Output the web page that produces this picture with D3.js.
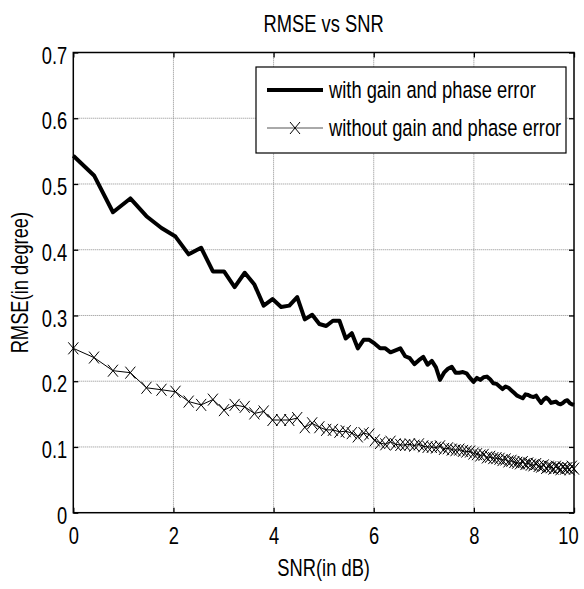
<!DOCTYPE html>
<html>
<head>
<meta charset="utf-8">
<script src="https://cdn.jsdelivr.net/npm/d3@7"></script>
<style>
  html, body { margin: 0; padding: 0; background: #fff; }
  svg { display: block; }
  text { font-family: "Liberation Sans", Arial, sans-serif; fill: #000; }
</style>
</head>
<body>
<svg id="chart"></svg>
<script>
//--------------------------------------------
// DATA
//--------------------------------------------
// SNR in dB at each simulated point
const snrDb = [
  0, 0.414, 0.792, 1.139, 1.461, 1.761, 2.041, 2.304, 2.553, 2.788,
  3.010, 3.222, 3.424, 3.617, 3.802, 3.979, 4.150, 4.314, 4.472, 4.624,
  4.771, 4.914, 5.051, 5.185, 5.315, 5.441, 5.563, 5.682, 5.798, 5.911,
  6.021, 6.128, 6.232, 6.335, 6.435, 6.532, 6.628, 6.721, 6.812, 6.902,
  6.990, 7.076, 7.160, 7.243, 7.324, 7.404, 7.482, 7.559, 7.634, 7.709,
  7.782, 7.853, 7.924, 7.993, 8.062, 8.129, 8.195, 8.261, 8.325, 8.388,
  8.451, 8.513, 8.573, 8.633, 8.692, 8.751, 8.808, 8.865, 8.921, 8.976,
  9.031, 9.085, 9.138, 9.191, 9.243, 9.294, 9.345, 9.395, 9.445, 9.494,
  9.542, 9.590, 9.638, 9.685, 9.731, 9.777, 9.823, 9.868, 9.912, 9.956,
  10
];

// RMSE (degree), with gain and phase error
const rmseWithError = [
  0.543, 0.513, 0.457, 0.478, 0.451, 0.433, 0.420, 0.393, 0.403, 0.367,
  0.367, 0.343, 0.365, 0.347, 0.315, 0.325, 0.313, 0.315, 0.328, 0.294,
  0.301, 0.287, 0.284, 0.292, 0.292, 0.265, 0.273, 0.250, 0.263, 0.263,
  0.257, 0.250, 0.250, 0.244, 0.247, 0.250, 0.238, 0.235, 0.226, 0.232,
  0.237, 0.225, 0.231, 0.221, 0.202, 0.213, 0.219, 0.222, 0.213, 0.213,
  0.214, 0.212, 0.205, 0.199, 0.205, 0.202, 0.206, 0.207, 0.203, 0.197,
  0.196, 0.192, 0.188, 0.192, 0.190, 0.186, 0.182, 0.178, 0.176, 0.174,
  0.180, 0.179, 0.177, 0.176, 0.178, 0.172, 0.167, 0.172, 0.175, 0.172,
  0.167, 0.168, 0.169, 0.166, 0.165, 0.167, 0.170, 0.171, 0.167, 0.165,
  0.164
];

// RMSE (degree), without gain and phase error
const rmseWithoutError = [
  0.250, 0.236, 0.216, 0.213, 0.190, 0.187, 0.184, 0.169, 0.164, 0.172,
  0.156, 0.164, 0.161, 0.151, 0.154, 0.141, 0.141, 0.141, 0.144, 0.130,
  0.136, 0.130, 0.126, 0.126, 0.123, 0.124, 0.121, 0.116, 0.121, 0.119,
  0.110, 0.106, 0.104, 0.108, 0.104, 0.103, 0.103, 0.104, 0.102, 0.104,
  0.101, 0.100, 0.100, 0.099, 0.101, 0.097, 0.098, 0.096, 0.095, 0.096,
  0.094, 0.093, 0.093, 0.090, 0.089, 0.087, 0.088, 0.084, 0.085, 0.083,
  0.083, 0.082, 0.080, 0.081, 0.078, 0.079, 0.077, 0.076, 0.075, 0.077,
  0.074, 0.075, 0.073, 0.072, 0.074, 0.071, 0.070, 0.072, 0.068, 0.070,
  0.069, 0.067, 0.070, 0.068, 0.066, 0.069, 0.067, 0.068, 0.066, 0.070,
  0.067
];

const xTicks = [0, 2, 4, 6, 8, 10];
const yTicks = [0, 0.1, 0.2, 0.3, 0.4, 0.5, 0.6, 0.7];
const seriesNames = ["with gain and phase error", "without gain and phase error"];

//--------------------------------------------
// CONFIG
//--------------------------------------------
const width = 584, height = 589;
const margin = {top: 52.5, right: 10, bottom: 76.3, left: 73.3};
const fontSize = 23.5;
const squeeze = 0.78; // matlab's narrow helvetica look

const svg = d3.select("#chart")
  .attr("width", width)
  .attr("height", height);

const x = d3.scaleLinear([0, 10], [margin.left, width - margin.right]);
const y = d3.scaleLinear([0, 0.7], [height - margin.bottom, margin.top]);

// squeeze text horizontally (no narrow font installed): move x/y into a
// transform and scale around the anchor point
function narrow(sel) {
  sel.each(function() {
    const t = d3.select(this);
    const tx = +t.attr("x") || 0, ty = +t.attr("y") || 0;
    const prev = t.attr("transform") || "";
    t.attr("x", 0).attr("y", 0)
      .attr("transform", `${prev} translate(${tx},${ty}) scale(${squeeze},1)`);
  });
}

// grid (dotted, matlab style)
const grid = svg.append("g").attr("stroke", "#8c8c8c").attr("stroke-width", 1).attr("stroke-dasharray", "1,1");
grid.selectAll("line.gx").data(xTicks.slice(1, -1)).join("line")
  .attr("x1", d => x(d)).attr("x2", d => x(d))
  .attr("y1", y(0)).attr("y2", y(0.7));
grid.selectAll("line.gy").data(yTicks.slice(1, -1)).join("line")
  .attr("x1", x(0)).attr("x2", x(10))
  .attr("y1", d => y(d)).attr("y2", d => y(d));

// axes with inward ticks
const xAxis = d3.axisBottom(x).tickValues(xTicks).tickSize(-5).tickPadding(15).tickFormat(d3.format("d"));
const yAxis = d3.axisLeft(y).tickValues(yTicks).tickSize(-5).tickPadding(6).tickFormat(d => d === 0 ? "0" : d3.format(".1f")(d));

const gx = svg.append("g").attr("transform", `translate(0,${y(0)})`).call(xAxis);
const gy = svg.append("g").attr("transform", `translate(${x(0)},0)`).call(yAxis);
// top / right ticks
const gxTop = svg.append("g").attr("transform", `translate(0,${y(0.7)})`)
  .call(d3.axisTop(x).tickValues(xTicks).tickSize(-5).tickFormat(""));
const gyRight = svg.append("g").attr("transform", `translate(${x(10)},0)`)
  .call(d3.axisRight(y).tickValues(yTicks).tickSize(-5).tickFormat(""));

[gx, gy, gxTop, gyRight].forEach(g => {
  g.select(".domain").remove();
  g.selectAll(".tick line").attr("stroke", "#000").attr("stroke-width", 1.3);
  g.selectAll("text").attr("font-size", fontSize).attr("fill", "#000")
    .style("font-family", '"Liberation Sans", Arial, sans-serif');
});
// the last label sits a little inside the edge, as in the picture
gx.selectAll("text").attr("dy", "0.71em")
  .attr("x", d => d === 10 ? -6 : 0)
  .call(narrow);
gy.selectAll("text").attr("dy", "0.45em").call(narrow);

// box
svg.append("rect")
  .attr("x", x(0)).attr("y", y(0.7))
  .attr("width", x(10) - x(0)).attr("height", y(0) - y(0.7))
  .attr("fill", "none").attr("stroke", "#000").attr("stroke-width", 1.5);

//--------------------------------------------
// LINES
//--------------------------------------------
const line = d3.line().x(d => x(d[0])).y(d => y(d[1]));
const withData = snrDb.map((s, i) => [s, rmseWithError[i]]);
const withoutData = snrDb.map((s, i) => [s, rmseWithoutError[i]]);

svg.append("path")
  .datum(withoutData)
  .attr("d", line)
  .attr("fill", "none")
  .attr("stroke", "#000")
  .attr("stroke-width", 1);

const xMark = "M-5,-6L5,6M-5,6L5,-6";
svg.append("g")
  .selectAll("path")
  .data(withoutData)
  .join("path")
    .attr("transform", d => `translate(${x(d[0])},${y(d[1])})`)
    .attr("d", xMark)
    .attr("fill", "none")
    .attr("stroke", "#000")
    .attr("stroke-width", 1);

svg.append("path")
  .datum(withData)
  .attr("d", line)
  .attr("fill", "none")
  .attr("stroke", "#000")
  .attr("stroke-width", 4)
  .attr("stroke-linejoin", "round");

//--------------------------------------------
// LEGEND
//--------------------------------------------
const lg = svg.append("g");
lg.append("rect")
  .attr("x", 256).attr("y", 67).attr("width", 310).attr("height", 86)
  .attr("fill", "#fff").attr("stroke", "#000").attr("stroke-width", 1.2);
lg.append("line").attr("x1", 267).attr("x2", 323).attr("y1", 90).attr("y2", 90)
  .attr("stroke", "#000").attr("stroke-width", 4);
lg.append("line").attr("x1", 267).attr("x2", 323).attr("y1", 128).attr("y2", 128)
  .attr("stroke", "#555").attr("stroke-width", 1);
lg.append("path").attr("transform", "translate(295,128)").attr("d", xMark)
  .attr("fill", "none").attr("stroke", "#000").attr("stroke-width", 1);
lg.selectAll("text").data(seriesNames).join("text")
  .attr("x", 329).attr("y", (d, i) => [90, 128][i])
  .attr("dy", "0.36em")
  .attr("font-size", fontSize)
  .text(d => d)
  .call(narrow);

//--------------------------------------------
// TITLES
//--------------------------------------------
const cx = (x(0) + x(10)) / 2;
svg.append("text").attr("x", cx).attr("y", 32).attr("text-anchor", "middle")
  .attr("font-size", fontSize).text("RMSE vs SNR").call(narrow);
svg.append("text").attr("x", cx).attr("y", 576).attr("text-anchor", "middle")
  .attr("font-size", fontSize).text("SNR(in dB)").call(narrow);
svg.append("text")
  .attr("transform", `translate(28,${(y(0) + y(0.7)) / 2}) rotate(-90)`)
  .attr("text-anchor", "middle")
  .attr("font-size", fontSize).text("RMSE(in degree)").call(narrow);
</script>
</body>
</html>
